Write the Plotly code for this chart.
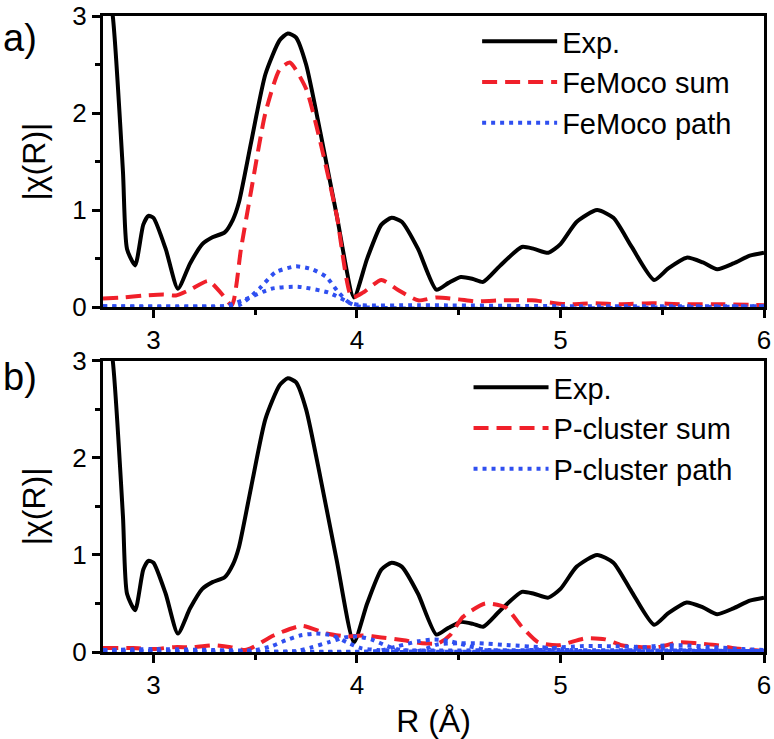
import plotly.graph_objects as go
from plotly.subplots import make_subplots

# ---------------- data ----------------
exp_r = [2.752, 2.80, 2.85, 2.87, 2.91, 2.95, 2.975, 3.0, 3.06, 3.12, 3.18, 3.24, 3.29, 3.35, 3.39,
         3.42, 3.48, 3.55, 3.62, 3.66, 3.70, 3.75, 3.82, 3.90, 3.985, 4.05, 4.12, 4.17, 4.22, 4.30,
         4.39, 4.45, 4.51, 4.57, 4.62, 4.70, 4.81, 4.87, 4.94, 5.00, 5.08, 5.18, 5.26, 5.35, 5.46,
         5.53, 5.62, 5.70, 5.77, 5.85, 5.93, 6.00]
exp_chi = [3.6, 3.0, 1.4, 0.6, 0.43, 0.85, 0.94, 0.92, 0.6, 0.19, 0.45, 0.65, 0.72, 0.77, 0.9,
           1.08, 1.7, 2.4, 2.75, 2.82, 2.78, 2.5, 1.8, 0.95, 0.10, 0.5, 0.85, 0.92, 0.88, 0.6,
           0.18, 0.25, 0.31, 0.29, 0.26, 0.42, 0.62, 0.60, 0.56, 0.65, 0.88, 1.00, 0.92, 0.62, 0.28,
           0.40, 0.51, 0.46, 0.39, 0.45, 0.53, 0.56]

femo_sum_r = [2.752, 2.85, 2.95, 3.05, 3.11, 3.18, 3.27, 3.33, 3.385, 3.43, 3.48, 3.55, 3.62, 3.67,
              3.75, 3.82, 3.90, 3.975, 4.03, 4.12, 4.20, 4.30, 4.39, 4.50, 4.58, 4.72, 4.86, 5.03,
              5.16, 5.30, 5.45, 5.60, 5.80, 6.00]
femo_sum_chi = [0.09, 0.10, 0.12, 0.13, 0.12, 0.18, 0.27, 0.15, 0.02, 0.6, 1.2, 2.0, 2.45, 2.52,
                2.25, 1.7, 0.95, 0.10, 0.15, 0.28, 0.18, 0.07, 0.10, 0.08, 0.06, 0.07, 0.07, 0.03,
                0.04, 0.03, 0.04, 0.03, 0.03, 0.02]

femo_path1_r = [2.752, 3.3, 3.42, 3.52, 3.60, 3.70, 3.78, 3.85, 3.91, 3.96, 4.02, 4.3, 5.0, 6.0]
femo_path1_chi = [0.01, 0.01, 0.02, 0.19, 0.36, 0.42, 0.39, 0.31, 0.15, 0.05, 0.02, 0.02, 0.01, 0.01]
femo_path2_r = [2.752, 3.35, 3.45, 3.58, 3.71, 3.86, 3.94, 4.0, 6.0]
femo_path2_chi = [0.01, 0.01, 0.08, 0.19, 0.21, 0.15, 0.07, 0.01, 0.01]

pc_sum_r = [2.752, 2.9, 3.0, 3.1, 3.2, 3.3, 3.38, 3.45, 3.49, 3.59, 3.73, 3.85, 3.95, 4.03, 4.12,
            4.23, 4.32, 4.40, 4.46, 4.52, 4.63, 4.73, 4.81, 4.89, 4.99, 5.12, 5.22, 5.30, 5.40,
            5.48, 5.58, 5.67, 5.77, 5.85, 6.00]
pc_sum_chi = [0.04, 0.04, 0.03, 0.05, 0.05, 0.07, 0.05, 0.02, 0.05, 0.17, 0.27, 0.19, 0.16, 0.17, 0.15,
              0.12, 0.09, 0.09, 0.18, 0.36, 0.50, 0.46, 0.26, 0.10, 0.07, 0.14, 0.13, 0.07, 0.05,
              0.05, 0.10, 0.09, 0.07, 0.04, 0.01]

pc_path_r = [
    [2.752, 3.0, 3.3, 3.5, 3.58, 3.65, 3.72, 3.80, 3.88, 3.95, 4.02, 4.10, 5.0, 6.0],
    [2.752, 3.7, 3.78, 3.86, 3.94, 4.00, 4.07, 4.15, 4.22, 6.0],
    [2.752, 4.1, 4.20, 4.30, 4.38, 4.46, 4.55, 4.65, 6.0],
    [2.752, 4.3, 4.40, 4.50, 4.60, 4.75, 4.90, 5.00, 5.10, 6.0],
    [2.752, 4.8, 4.95, 5.10, 5.25, 5.40, 5.55, 5.70, 6.0],
    [2.752, 5.3, 5.45, 5.60, 5.75, 5.90, 6.0],
]
pc_path_chi = [
    [0.02, 0.03, 0.02, 0.02, 0.06, 0.12, 0.17, 0.19, 0.17, 0.10, 0.04, 0.02, 0.02, 0.01],
    [0.01, 0.01, 0.05, 0.10, 0.15, 0.16, 0.13, 0.06, 0.02, 0.01],
    [0.01, 0.01, 0.06, 0.11, 0.13, 0.11, 0.06, 0.02, 0.01],
    [0.005, 0.01, 0.08, 0.09, 0.09, 0.07, 0.05, 0.03, 0.01, 0.01],
    [0.01, 0.01, 0.04, 0.06, 0.06, 0.05, 0.03, 0.02, 0.01],
    [0.01, 0.01, 0.06, 0.07, 0.05, 0.03, 0.02],
]

x_ticks = [3, 4, 5, 6]
y_ticks = [0, 1, 2, 3]

# ---------------- styles ----------------
FONT = "Liberation Sans, Arial, sans-serif"
BLACK = "#000000"
RED = "#f0202a"
BLUE = "#2f4ff0"
DASH = "15px,8px"
DOT = "4px,5px"

fig = make_subplots(rows=2, cols=1, vertical_spacing=0.0845)

def add(x, y, row, name, color, dash, legend, show=True, width=4):
    fig.add_trace(go.Scatter(x=x, y=y, mode="lines", name=name,
                             line=dict(color=color, width=width, dash=dash, shape="spline", smoothing=0.6),
                             showlegend=show, legend=legend), row=row, col=1)

# top panel
add(exp_r, exp_chi, 1, "Exp.", BLACK, "solid", "legend")
add(femo_sum_r, femo_sum_chi, 1, "FeMoco sum", RED, DASH, "legend")
add(femo_path1_r, femo_path1_chi, 1, "FeMoco path", BLUE, DOT, "legend")
add(femo_path2_r, femo_path2_chi, 1, "FeMoco path", BLUE, DOT, "legend", show=False)

# bottom panel
add(exp_r, exp_chi, 2, "Exp.", BLACK, "solid", "legend2")
add(pc_sum_r, pc_sum_chi, 2, "P-cluster sum", RED, DASH, "legend2")
for i, (xr, yc) in enumerate(zip(pc_path_r, pc_path_chi)):
    add(xr, yc, 2, "P-cluster path", BLUE, DOT, "legend2", show=(i == 0))

axis_common = dict(showline=True, linecolor="black", linewidth=3, mirror=True,
                   ticks="outside", ticklen=8, tickwidth=3, tickcolor="black",
                   showgrid=False, zeroline=False, automargin=False, ticklabeloverflow="allow",
                   tickfont=dict(family=FONT, size=26, color="black"),
                   minor=dict(ticks="outside", ticklen=5, tickwidth=3, tickcolor="black", dtick=0.5))

for r in (1, 2):
    fig.update_xaxes(range=[2.752, 6], tickvals=x_ticks, row=r, col=1, **axis_common)
    fig.update_yaxes(range=[0, 3], tickvals=y_ticks, row=r, col=1,
                     title=dict(text="|χ(R)|", font=dict(family=FONT, size=32, color="black"), standoff=18),
                     **axis_common)
fig.update_xaxes(title=dict(text="R (Å)", font=dict(family=FONT, size=32, color="black"), standoff=12),
                 row=2, col=1)

legend_common = dict(font=dict(family=FONT, size=29, color="black"), bgcolor="rgba(0,0,0,0)",
                     borderwidth=0, itemwidth=75, xanchor="left", yanchor="top", tracegroupgap=0)
fig.update_layout(
    width=774, height=739,
    margin=dict(l=103, r=10, t=16, b=87),
    plot_bgcolor="white", paper_bgcolor="white",
    font=dict(family=FONT, color="black"),
    legend=dict(x=0.566, y=1.0, **legend_common),
    legend2=dict(x=0.553, y=0.456, **legend_common),
)
fig.add_annotation(text="a)", xref="paper", yref="paper", x=-0.155, y=0.966, xanchor="left", yanchor="middle",
                   showarrow=False, font=dict(family=FONT, size=38, color="black"))
fig.add_annotation(text="b)", xref="paper", yref="paper", x=-0.155, y=0.432, xanchor="left", yanchor="middle",
                   showarrow=False, font=dict(family=FONT, size=38, color="black"))

fig.write_html("out.html", config={"displayModeBar": False},
               post_script="document.body.style.margin='0px';")
